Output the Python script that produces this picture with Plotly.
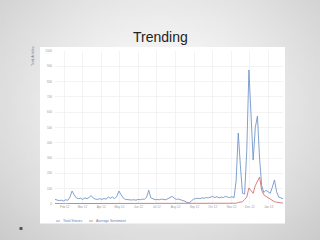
import base64, struct, zlib
import numpy as np
import pandas as pd
import plotly.graph_objects as go

# ---------------- data ----------------
start_date = "2012-01-16"
step_hours = 84  # samples every 3.5 days

total_stories = [30, 28, 22, 25, 20, 28, 24, 45, 85, 60,
                 40, 35, 38, 30, 40, 35, 42, 55, 38, 32,
                 30, 35, 30, 36, 32, 45, 38, 45, 35, 50,
                 85, 60, 40, 30, 28, 30, 26, 28, 25, 30,
                 28, 32, 30, 45, 90, 40, 32, 28, 30, 28,
                 32, 30, 28, 35, 40, 50, 38, 30, 32, 28,
                 25, 18, 10, 8, 20, 32, 35, 38, 35, 40,
                 38, 42, 40, 45, 50, 42, 48, 40, 45, 42,
                 50, 45, 42, 48, 40, 150, 464, 250, 70, 65,
                 350, 876, 560, 287, 500, 575, 300, 120, 75, 90,
                 80, 70, 110, 157, 80, 45, 40, 35]

avg_sentiment = [3, 2, 3, 2, 3, 2, 3, 3, 2, 3,
                 2, 3, 2, 3, 2, 3, 3, 2, 3, 2,
                 3, 2, 3, 2, 3, 2, 3, 3, 2, 3,
                 2, 3, 2, 3, 2, 3, 2, 3, 2, 3,
                 3, 2, 3, 2, 3, 2, 3, 2, 3, 2,
                 3, 3, 2, 3, 2, 3, 2, 3, 2, 3,
                 2, 3, 2, 3, 3, 2, 3, 2, 3, 2,
                 3, 2, 3, 2, 3, 3, 2, 3, 2, 3,
                 2, 3, 3, 2, 3, 5, 10, 12, 15, 30,
                 45, 105, 85, 70, 120, 150, 176, 90, 60, 50,
                 40, 30, 20, 15, 12, 10, 8, 6]

series_names = ["Total Stories", "Average Sentiment"]
y_ticks = [0, 100, 200, 300, 400, 500, 600, 700, 800, 900, 1000]
title_text = "Trending"
y_title = "Total Articles"

dates = pd.date_range(start_date, periods=len(total_stories), freq=f"{step_hours}h")
colors = ["#7496c8", "#d27272"]

# ---------------- background gradient image ----------------
def gradient_png(w=64, h=48):
    ys, xs = np.mgrid[0:h, 0:w]
    dx = (xs / (w - 1) - 0.5) / 0.5
    dy = (ys / (h - 1) - 0.42) / 0.58
    r = np.sqrt(dx ** 2 + dy ** 2) / np.sqrt(2)
    v = np.clip(252 - 48 * r ** 1.4, 0, 255).astype(np.uint8)
    raw = b"".join(b"\x00" + bytes(np.repeat(v[row], 3)) for row in range(h))

    def chunk(tag, data):
        c = struct.pack(">I", len(data)) + tag + data
        return c + struct.pack(">I", zlib.crc32(tag + data) & 0xFFFFFFFF)

    png = b"\x89PNG\r\n\x1a\n"
    png += chunk(b"IHDR", struct.pack(">IIBBBBB", w, h, 8, 2, 0, 0, 0))
    png += chunk(b"IDAT", zlib.compress(raw, 9))
    png += chunk(b"IEND", b"")
    return "data:image/png;base64," + base64.b64encode(png).decode()

# ---------------- figure ----------------
W, H = 320, 240
L, R, T, B = 55, 37, 51, 36
pw, ph = W - L - R, H - T - B

def px(x):
    return (x - L) / pw

def py(y):
    return (H - B - y) / ph

fig = go.Figure()
for name, vals, col in zip(series_names, [total_stories, avg_sentiment], colors):
    fig.add_trace(go.Scatter(x=dates, y=vals, mode="lines", name=name,
                             line=dict(color=col, width=0.9), showlegend=False))

# compact legend drawn as small line keys + labels
legend_x = [56, 89]
legend_y = 221
shapes = [
    dict(type="rect", xref="paper", yref="paper", x0=px(40), x1=px(285), y0=py(223.5), y1=py(47),
         fillcolor="white", line=dict(width=0), layer="below"),
    dict(type="rect", xref="paper", yref="paper", x0=px(19.5), x1=px(22.5), y0=py(230), y1=py(227),
         fillcolor="#555555", line=dict(width=0), layer="above"),
]
annotations = [
    dict(text=title_text, xref="paper", yref="paper", x=px(160), y=py(37),
         xanchor="center", yanchor="middle", showarrow=False,
         font=dict(size=14, color="#222222", family="Liberation Sans")),
    dict(text=y_title, xref="paper", yref="paper", x=px(33), y=py(44),
         xanchor="center", yanchor="top", textangle=-90, showarrow=False,
         font=dict(size=3.5, color="#777777", family="Liberation Sans")),
]
for lx, name, col in zip(legend_x, series_names, colors):
    shapes.append(dict(type="line", xref="paper", yref="paper", x0=px(lx), x1=px(lx + 4),
                       y0=py(legend_y), y1=py(legend_y), line=dict(color=col, width=0.8)))
    annotations.append(dict(text=name, xref="paper", yref="paper", x=px(lx + 5), y=py(legend_y),
                            xanchor="left", yanchor="middle", showarrow=False,
                            font=dict(size=3.5, color="#5a7fb8", family="Liberation Sans")))

fig.update_layout(
    width=W, height=H,
    margin=dict(l=L, r=R, t=T, b=B, pad=0),
    paper_bgcolor="#dcdcdc",
    plot_bgcolor="white",
    showlegend=False,
    images=[dict(source=gradient_png(), xref="paper", yref="paper",
                 x=px(0), y=py(0), sizex=px(W) - px(0), sizey=py(0) - py(H),
                 xanchor="left", yanchor="top", sizing="stretch", layer="below")],
    shapes=shapes,
    annotations=annotations,
)

fig.update_xaxes(
    range=[dates[0], dates[-1]],
    dtick="M1", tick0="2012-02-01", tickformat="%b %y",
    showgrid=True, gridcolor="#eeeeee", gridwidth=0.7,
    tickfont=dict(size=3, color="#999999", family="Liberation Sans"),
    ticks="", showline=False, zeroline=False,
)
fig.update_yaxes(
    range=[0, 1000], tickvals=y_ticks,
    showgrid=True, gridcolor="#eeeeee", gridwidth=0.7,
    tickfont=dict(size=3, color="#999999", family="Liberation Sans"),
    ticks="", showline=False, zeroline=False, ticklabelstandoff=2,
)

fig.write_html("out.html",
               config={"displayModeBar": False, "staticPlot": True},
               post_script="document.body.style.margin='0px';document.body.style.padding='0px';")
